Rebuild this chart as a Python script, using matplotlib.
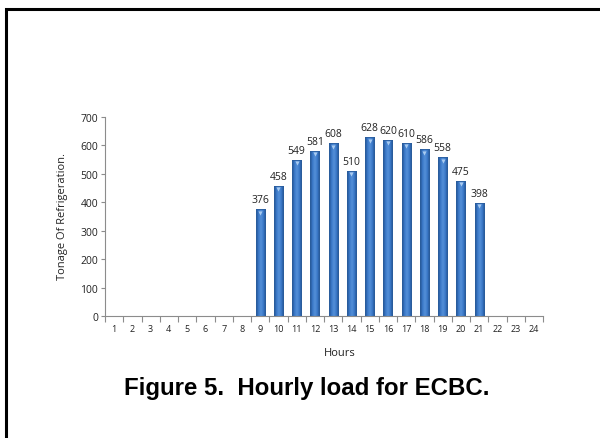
import numpy as np
import matplotlib
matplotlib.use("Agg")
import matplotlib.pyplot as plt
from matplotlib.patches import Rectangle
from matplotlib.colors import LinearSegmentedColormap

hours = list(range(1, 25))
load = [0, 0, 0, 0, 0, 0, 0, 0, 376, 458, 549, 581, 608, 510,
        628, 620, 610, 586, 558, 475, 398, 0, 0, 0]
yticks = [0, 100, 200, 300, 400, 500, 600, 700]

fig = plt.figure(figsize=(6.0, 4.39), dpi=100)
fig.patch.set_facecolor("white")

# page frame (top and left edges visible)
fig.patches.append(Rectangle((6 / 600, -0.1), 1.2, 1 - 9.5 / 439 + 0.1,
                             transform=fig.transFigure, fill=False,
                             edgecolor="black", linewidth=2.2))

ax = fig.add_axes([105 / 600, 1 - 317 / 439, 438 / 600, 199 / 439])
ax.set_xlim(0.5, 24.5)
ax.set_ylim(0, 700)

font = "Open Sans"
axis_col = "#8c8c8c"
bar_w = 0.5

# bars with a horizontal gradient (dark edges, lighter centre)
cmap = LinearSegmentedColormap.from_list(
    "barblue", ["#21508c", "#3a78c8", "#5490d8", "#3a78c8", "#21508c"])
grad = np.linspace(0, 1, 64).reshape(1, -1)
for h, v in zip(hours, load):
    if v <= 0:
        continue
    x0, x1 = h - bar_w / 2, h + bar_w / 2
    im = ax.imshow(grad, cmap=cmap, aspect="auto",
                   extent=(x0, x1, 0, v), zorder=2, interpolation="bilinear")
    rect = Rectangle((x0, 0), bar_w, v, fill=False, edgecolor="#2a5d9e",
                     linewidth=0.6, zorder=3)
    ax.add_patch(rect)
    im.set_clip_path(rect)
    # small highlight cap
    ax.plot([h], [v - 12], marker="v", markersize=3, color="#a9cbf0",
            zorder=4, markeredgewidth=0)
    ax.text(h, v + 14, str(v), ha="center", va="bottom", fontsize=7.5,
            family=font, color="#222222", zorder=5)

ax.set_xlim(0.5, 24.5)
ax.set_ylim(0, 700)

for s in ["top", "right"]:
    ax.spines[s].set_visible(False)
for s in ["left", "bottom"]:
    ax.spines[s].set_color(axis_col)
    ax.spines[s].set_linewidth(0.8)

ax.set_yticks(yticks)
ax.set_yticklabels([str(t) for t in yticks], fontsize=7.5, family=font,
                   color="#222222")
ax.tick_params(axis="y", length=3, color=axis_col, pad=2)

# category ticks between bars, labels centred under them
ax.set_xticks(np.arange(0.5, 25, 1), minor=False)
ax.set_xticklabels([])
ax.set_xticks(hours, minor=True)
ax.set_xticklabels([str(h) for h in hours], minor=True, fontsize=6.5,
                   family=font, color="#222222")
ax.tick_params(axis="x", which="major", length=4, color=axis_col,
               direction="out")
ax.tick_params(axis="x", which="minor", length=0, pad=6)

fig.text(62 / 600, 1 - 217 / 439, "Tonage Of Refrigeration.", rotation=90,
         ha="center", va="center", fontsize=8, family=font, color="#222222")
fig.text(340 / 600, 1 - 354 / 439, "Hours", ha="center", va="center",
         fontsize=8, family=font, color="#222222")
fig.text(307 / 600, 1 - 389 / 439, "Figure 5.  Hourly load for ECBC.",
         ha="center", va="center", fontsize=17.3, fontweight="bold",
         family="Liberation Sans", color="black")

fig.savefig("out.png", dpi=100, facecolor="white")
